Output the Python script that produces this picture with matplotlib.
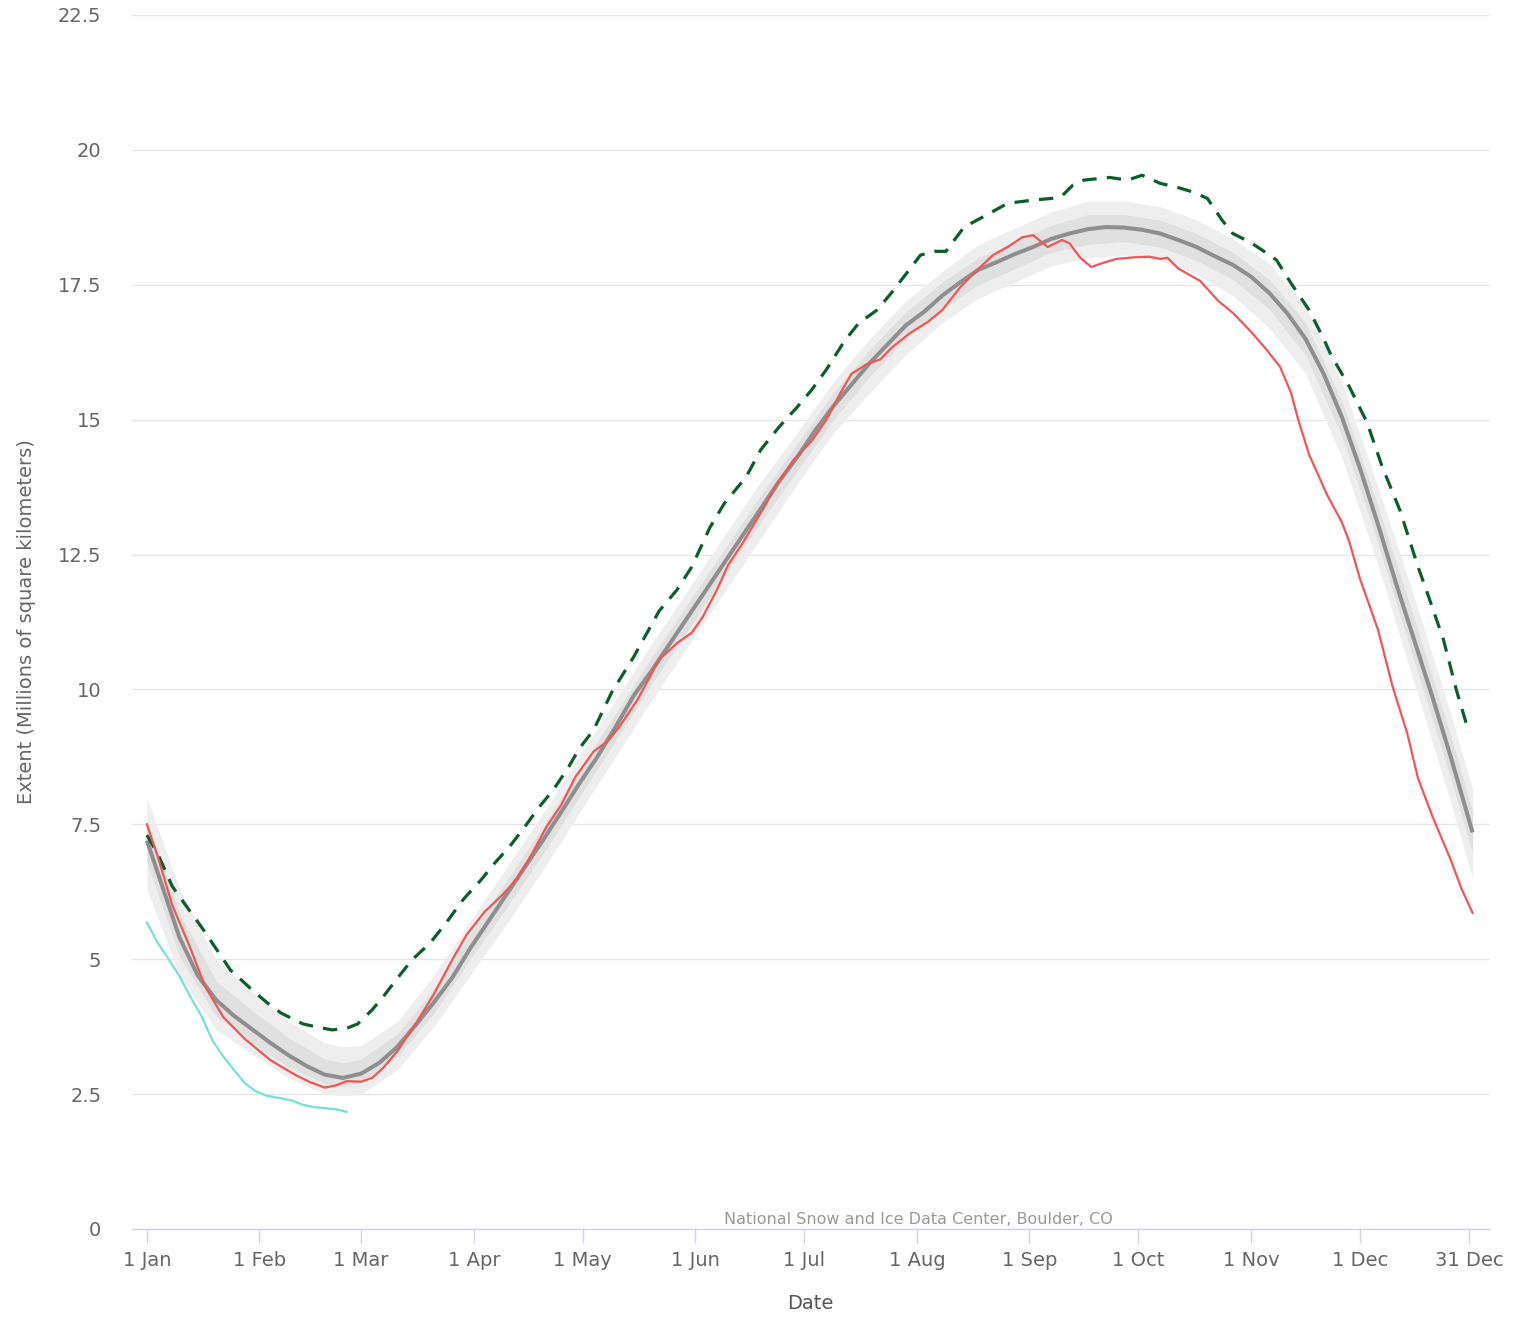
import matplotlib
matplotlib.use("Agg")
import matplotlib.pyplot as plt
import numpy as np

# ---------------- data ----------------
tick_days = [1, 32, 60, 91, 121, 152, 182, 213, 244, 274, 305, 335, 365]
tick_labels = ["1 Jan", "1 Feb", "1 Mar", "1 Apr", "1 May", "1 Jun", "1 Jul",
               "1 Aug", "1 Sep", "1 Oct", "1 Nov", "1 Dec", "31 Dec"]
y_ticks = [0, 2.5, 5, 7.5, 10, 12.5, 15, 17.5, 20, 22.5]
y_tick_labels = ["0", "2.5", "5", "7.5", "10", "12.5", "15", "17.5", "20", "22.5"]

median_days = [1, 5, 10, 15, 20, 25, 30, 35, 40, 45, 50, 55, 60, 65, 70, 75, 80, 85,
               90, 95, 100, 105, 110, 115, 120, 125, 130, 135, 140, 145, 150, 155,
               160, 165, 170, 175, 180, 185, 190, 195, 200, 205, 210, 215, 220, 225,
               230, 235, 240, 245, 250, 255, 260, 265, 270, 275, 280, 285, 290, 295,
               300, 305, 310, 315, 320, 325, 330, 335, 340, 345, 350, 355, 360, 366]
median_vals = [7.2, 6.4, 5.4, 4.7, 4.25, 3.95, 3.7, 3.45, 3.22, 3.02, 2.86, 2.8, 2.88,
               3.08, 3.38, 3.78, 4.2, 4.65, 5.2, 5.7, 6.2, 6.7, 7.2, 7.72, 8.25, 8.75,
               9.3, 9.88, 10.35, 10.85, 11.35, 11.85, 12.35, 12.85, 13.35, 13.85, 14.3,
               14.8, 15.25, 15.65, 16.05, 16.4, 16.75, 17.0, 17.3, 17.55, 17.78, 17.92,
               18.07, 18.2, 18.35, 18.45, 18.53, 18.57, 18.56, 18.52, 18.45, 18.33,
               18.2, 18.03, 17.87, 17.65, 17.35, 16.97, 16.5, 15.85, 15.05, 14.1, 13.05,
               11.95, 10.9, 9.85, 8.75, 7.35]

band_days = [1, 10, 20, 30, 40, 50, 55, 60, 70, 80, 90, 100, 110, 120, 130, 140, 150,
             160, 170, 180, 190, 200, 210, 220, 230, 240, 250, 260, 270, 280, 290, 300,
             310, 320, 330, 340, 350, 360, 366]
iqr_low = [6.8, 5.05, 3.95, 3.45, 3.0, 2.7, 2.65, 2.72, 3.2, 4.0, 5.0, 5.95, 6.95, 8.0,
           9.05, 10.1, 11.1, 12.1, 13.1, 14.05, 15.0, 15.8, 16.5, 17.05, 17.5, 17.8,
           18.1, 18.25, 18.3, 18.2, 17.95, 17.6, 17.05, 16.2, 14.7, 12.7, 10.5, 8.35,
           6.95]
iqr_high = [7.6, 5.85, 4.6, 4.05, 3.55, 3.15, 3.08, 3.15, 3.62, 4.45, 5.45, 6.45, 7.45,
            8.5, 9.55, 10.6, 11.6, 12.6, 13.6, 14.55, 15.5, 16.3, 17.0, 17.55, 18.0,
            18.3, 18.6, 18.8, 18.8, 18.7, 18.45, 18.1, 17.6, 16.8, 15.35, 13.4, 11.3,
            9.15, 7.75]
idr_low = [6.3, 4.7, 3.7, 3.25, 2.8, 2.5, 2.47, 2.5, 2.95, 3.75, 4.7, 5.65, 6.65, 7.7,
           8.75, 9.8, 10.8, 11.8, 12.8, 13.8, 14.75, 15.5, 16.2, 16.8, 17.25, 17.55,
           17.85, 18.0, 18.05, 17.95, 17.7, 17.3, 16.7, 15.85, 14.3, 12.3, 10.1, 7.9,
           6.5]
idr_high = [8.0, 6.3, 5.0, 4.4, 3.85, 3.45, 3.38, 3.4, 3.85, 4.7, 5.7, 6.7, 7.7, 8.75,
            9.8, 10.85, 11.85, 12.85, 13.85, 14.75, 15.7, 16.5, 17.2, 17.75, 18.25,
            18.55, 18.85, 19.05, 19.05, 18.95, 18.7, 18.35, 17.9, 17.1, 15.7, 13.75,
            11.7, 9.55, 8.15]

red_days = [1, 4, 8, 13, 17, 22, 28, 35, 42, 46, 50, 53, 56, 60, 63, 66, 70, 75, 80,
            85, 89, 94, 99, 103, 107, 111, 115, 119, 124, 128, 131, 136, 138, 142, 147,
            151, 154, 158, 161, 165, 170, 175, 179, 184, 188, 192, 195, 199, 203, 206,
            211, 216, 220, 225, 230, 234, 238, 242, 245, 249, 253, 255, 258, 261, 264,
            268, 273, 277, 280, 282, 285, 291, 296, 300, 305, 309, 313, 316, 318, 321,
            326, 330, 332, 335, 340, 344, 348, 351, 355, 360, 363, 366]
red_vals = [7.5, 6.9, 6.0, 5.2, 4.5, 3.93, 3.52, 3.13, 2.85, 2.72, 2.62, 2.66, 2.74,
            2.73, 2.8, 2.98, 3.3, 3.8, 4.35, 4.98, 5.45, 5.88, 6.2, 6.5, 6.95, 7.45,
            7.85, 8.38, 8.85, 9.05, 9.3, 9.8, 10.05, 10.55, 10.86, 11.05, 11.34, 11.85,
            12.3, 12.71, 13.27, 13.85, 14.25, 14.6, 14.99, 15.5, 15.85, 16.02, 16.12,
            16.33, 16.6, 16.81, 17.03, 17.46, 17.8, 18.05, 18.2, 18.38, 18.42, 18.2,
            18.33, 18.27, 18.0, 17.83, 17.9, 17.98, 18.01, 18.02, 17.98, 18.0, 17.8,
            17.57, 17.2, 16.98, 16.63, 16.32, 15.98, 15.5, 15.0, 14.35, 13.6, 13.1,
            12.75, 12.05, 11.1, 10.05, 9.19, 8.35, 7.64, 6.84, 6.3, 5.86]

green_days = [1, 4, 8, 12, 16, 20, 24, 30, 34, 38, 44, 48, 52, 56, 59, 63, 66, 70, 74,
              79, 84, 88, 93, 97, 101, 105, 109, 113, 117, 120, 124, 129, 135, 142, 147,
              151, 156, 160, 166, 170, 175, 180, 184, 188, 193, 197, 202, 206, 210, 214,
              218, 221, 223, 226, 231, 238, 245, 250, 253, 256, 259, 266, 271, 275, 280,
              285, 289, 293, 297, 300, 305, 309, 312, 316, 321, 325, 327, 332, 337, 341,
              346, 348, 351, 354, 358, 361.5, 365]
green_vals = [7.3, 6.95, 6.35, 5.97, 5.6, 5.2, 4.8, 4.43, 4.2, 4.0, 3.8, 3.74, 3.69,
              3.72, 3.8, 4.06, 4.3, 4.65, 4.99, 5.3, 5.73, 6.1, 6.47, 6.8, 7.1, 7.45,
              7.82, 8.15, 8.55, 8.9, 9.25, 9.95, 10.6, 11.45, 11.85, 12.27, 13.0, 13.45,
              13.94, 14.44, 14.86, 15.23, 15.55, 15.92, 16.45, 16.79, 17.03, 17.35, 17.7,
              18.05, 18.12, 18.12, 18.3, 18.57, 18.75, 19.01, 19.07, 19.1, 19.15, 19.35,
              19.44, 19.49, 19.44, 19.53, 19.38, 19.3, 19.22, 19.1, 18.7, 18.45, 18.28,
              18.1, 17.96, 17.53, 17.03, 16.5, 16.2, 15.62, 14.94, 14.15, 13.32, 12.9,
              12.27, 11.7, 10.92, 10.0, 9.2]

cyan_days = [1, 4, 7, 10, 13, 16, 19, 22, 25, 28, 31, 34, 38, 41, 44, 47, 50, 53, 56]
cyan_vals = [5.68, 5.3, 5.0, 4.68, 4.3, 3.95, 3.5, 3.2, 2.95, 2.7, 2.55, 2.47, 2.42,
             2.38, 2.3, 2.26, 2.24, 2.22, 2.17]

# ---------------- figure ----------------
W, H = 1528, 1319
AX_L, AX_R, AX_T, AX_B = 132, 1490, 15, 1229
fig = plt.figure(figsize=(W / 100, H / 100), dpi=100)
ax = fig.add_axes([AX_L / W, 1 - AX_B / H, (AX_R - AX_L) / W, (AX_B - AX_T) / H])

text_col = "#666666"

ax.fill_between(band_days, idr_low, idr_high, color="#eeeeee", lw=0, zorder=1)
ax.fill_between(band_days, iqr_low, iqr_high, color="#e0e0e0", lw=0, zorder=2)
ax.plot(median_days, median_vals, color="#8e8e8e", lw=2.9, zorder=3,
        solid_capstyle="butt", solid_joinstyle="round")
ax.plot(green_days, green_vals, color="#0b5e2c", lw=2.3, ls=(0, (4.5, 3.2)), zorder=4)
ax.plot(red_days, red_vals, color="#f25555", lw=1.6, zorder=5, solid_joinstyle="round")
ax.plot(cyan_days, cyan_vals, color="#74e1d9", lw=1.6, zorder=6, solid_joinstyle="round")

ax.set_xlim(-3.1, 370.8)
ax.set_ylim(0, 22.5)

ax.set_yticks(y_ticks)
ax.set_yticklabels(y_tick_labels)
ax.set_xticks(tick_days)
ax.set_xticklabels(tick_labels)

for s in ["top", "right", "left"]:
    ax.spines[s].set_visible(False)
ax.spines["bottom"].set_color("#ccd6eb")
ax.spines["bottom"].set_linewidth(1.0)

ax.yaxis.grid(True, color="#e6e6e6", lw=1.0, zorder=0)
ax.set_axisbelow(True)

ax.tick_params(axis="y", length=0, pad=22, labelsize=14, labelcolor=text_col)
ax.tick_params(axis="x", length=10, width=1, color="#ccd6eb", pad=6,
               labelsize=14, labelcolor=text_col)

ax.set_ylabel("Extent (Millions of square kilometers)", fontsize=14, color=text_col)
ax.yaxis.set_label_coords((36 - AX_L) / (AX_R - AX_L), 0.5)
ax.set_xlabel("Date", fontsize=14, color="#555555")
ax.xaxis.set_label_coords((810 - AX_L) / (AX_R - AX_L), (AX_B - 1294) / (AX_B - AX_T))

fig.text(918 / W, 1 - 1219 / H, "National Snow and Ice Data Center, Boulder, CO",
         ha="center", va="center", fontsize=11.5, color="#999999")

fig.savefig("out.png", dpi=100, facecolor="white")
